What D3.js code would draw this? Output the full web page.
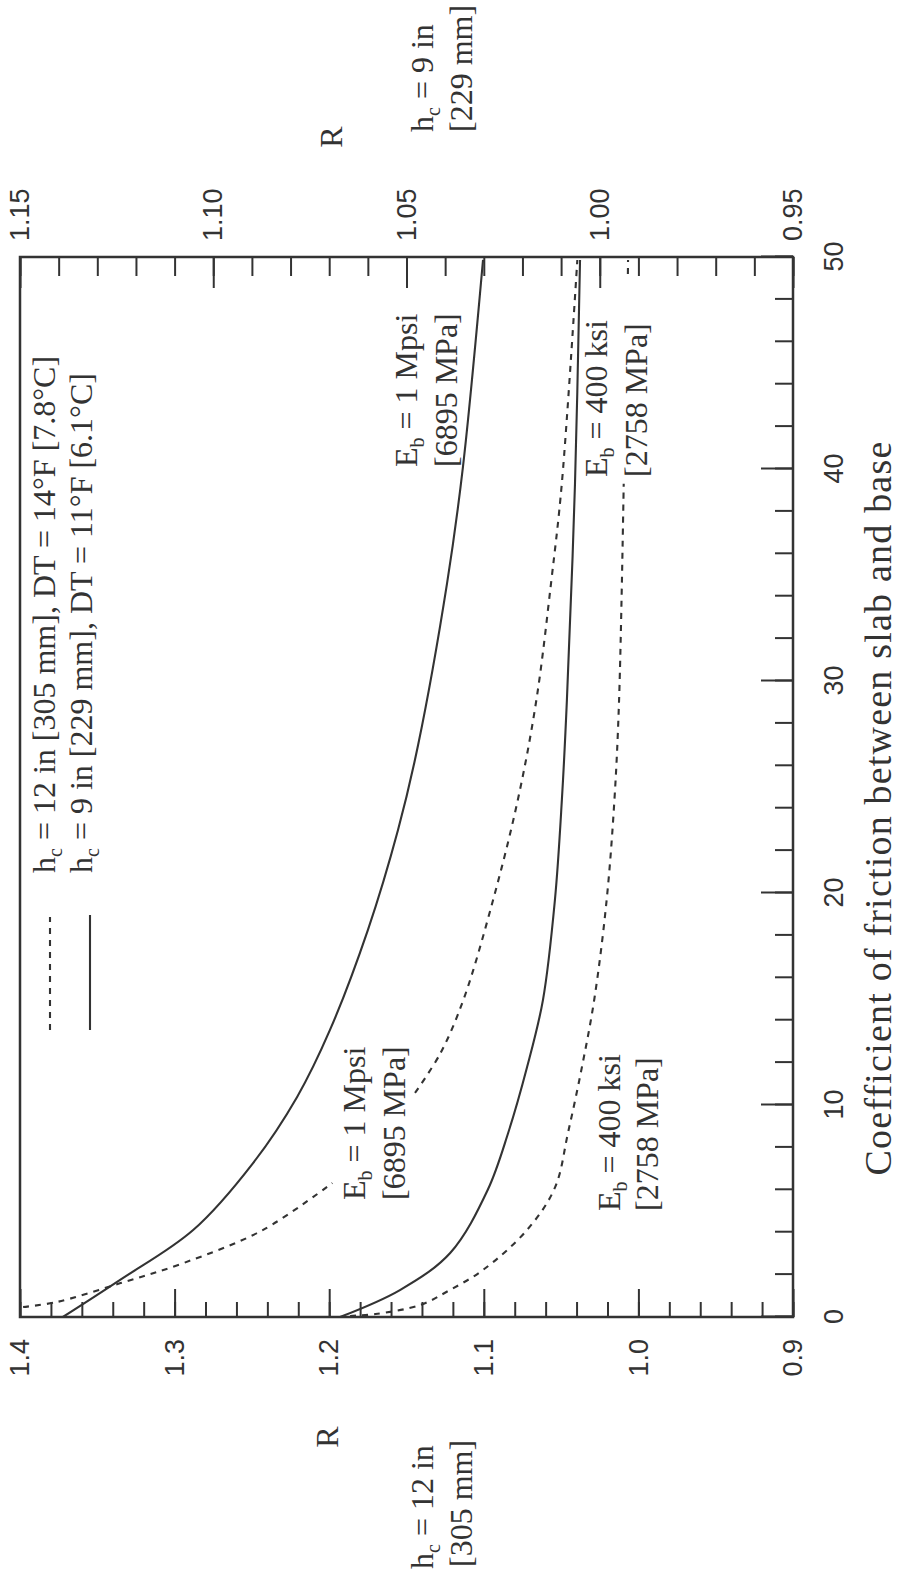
<!DOCTYPE html>
<html><head><meta charset="utf-8">
<script src="https://cdn.jsdelivr.net/npm/d3@7"></script>
<style>
html,body{margin:0;padding:0;background:#fff;}
svg{display:block;}
text{white-space:pre;}
</style></head><body>
<svg id="chart" width="901" height="1573"></svg>
<script>
// ---------------- data ----------------
const frictionTicks = [0, 10, 20, 30, 40, 50];
const R12Ticks = [0.9, 1.0, 1.1, 1.2, 1.3, 1.4];        // h_c = 12 in axis
const R9Ticks  = [0.95, 1.00, 1.05, 1.10, 1.15];        // h_c = 9 in axis

// h_c = 12 in (dashed, read on 0.9–1.4 axis)
const f_12in_1Mpsi = [0.47, 0.71, 1.6, 2.55, 4.1, 6.32, 10.57, 12.45, 15, 19.67, 24.39, 29.1, 34.62, 39.34, 49.86];
const R_12in_1Mpsi = [1.398, 1.376, 1.335, 1.294, 1.243, 1.198, 1.1445, 1.128, 1.113, 1.094, 1.078, 1.066, 1.0565, 1.0495, 1.0395];
const f_12in_400ksi = [0.05, 0.14, 0.57, 1.27, 2.22, 4.1, 6.1, 8.7, 11.8, 15, 19.7, 24.4, 29.1, 39.3, 49.2, 49.86];
const R_12in_400ksi = [1.1865, 1.170, 1.141, 1.122, 1.1005, 1.0721, 1.054, 1.0455, 1.0365, 1.0285, 1.0205, 1.0155, 1.0125, 1.0095, 1.0068, 1.0067];

// h_c = 9 in (solid, read on 0.95–1.15 axis)
const f_9in_1Mpsi = [0, 1.75, 4.1, 7.26, 10.38, 13.54, 18.25, 22.97, 26.98, 34.62, 40.09, 49.86];
const R_9in_1Mpsi = [1.1389, 1.1241, 1.1052, 1.0897, 1.0783, 1.0698, 1.0600, 1.0522, 1.0470, 1.0395, 1.0354, 1.0302];
const f_9in_400ksi = [0, 1.27, 3.02, 5.99, 8.68, 11.79, 14.95, 19.67, 24.39, 29.1, 39.34, 49.86];
const R_9in_400ksi = [1.0672, 1.0517, 1.0387, 1.0290, 1.0237, 1.0188, 1.0147, 1.0116, 1.0098, 1.0085, 1.0064, 1.0051];

// friction ranges where a dashed curve is interrupted by its label
const gap_12in_1Mpsi = [6.4, 10.5];
const gap_12in_400ksi = [39.4, 49.1];

// ---------------- layout ----------------
const W = 1060, H = 773;          // plot size in the (unrotated) chart frame
const ink = "#333";
const sans = "'Liberation Sans', Arial, Helvetica, sans-serif";
const serif = "'Liberation Serif', 'Times New Roman', serif";

const svg = d3.select("#chart");
svg.append("rect").attr("width", 901).attr("height", 1573).attr("fill", "#fff");

// The whole chart is drawn normally, then rotated 90° counter-clockwise.
const g = svg.append("g").attr("transform", "translate(20,1317) rotate(-90)");

const x  = d3.scaleLinear().domain([0, 50]).range([0, W]);
const yL = d3.scaleLinear().domain([0.9, 1.4]).range([H, 0]);
const yR = d3.scaleLinear().domain([0.95, 1.15]).range([H, 0]);

function styleAxis(sel) {
  sel.select(".domain").remove();
  sel.selectAll("line").attr("stroke", ink).attr("stroke-width", 2);
  sel.selectAll("text").attr("fill", ink).attr("font-family", sans).attr("font-size", 27);
}

// left axis (h_c = 12 in)
g.append("g").call(d3.axisLeft(yL).tickValues(d3.range(0.9, 1.4001, 0.02)).tickSize(-15).tickFormat("")).call(styleAxis);
g.append("g").call(d3.axisLeft(yL).tickValues(R12Ticks).tickSize(-28).tickPadding(22).tickFormat(d3.format(".1f"))).call(styleAxis);

// right axis (h_c = 9 in)
g.append("g").attr("transform", `translate(${W},0)`)
  .call(d3.axisRight(yR).tickValues(d3.range(0.95, 1.1501, 0.01)).tickSize(-19).tickFormat("")).call(styleAxis);
g.append("g").attr("transform", `translate(${W},0)`)
  .call(d3.axisRight(yR).tickValues(R9Ticks).tickSize(-31).tickPadding(16).tickFormat(d3.format(".2f"))).call(styleAxis);

// bottom axis (friction)
g.append("g").attr("transform", `translate(0,${H})`)
  .call(d3.axisBottom(x).tickValues(d3.range(0, 50.001, 2)).tickSize(-18).tickFormat("")).call(styleAxis);
g.append("g").attr("transform", `translate(0,${H})`)
  .call(d3.axisBottom(x).tickValues(frictionTicks).tickSize(-32).tickPadding(31).tickFormat(d3.format("d"))).call(styleAxis);

// frame
g.append("rect").attr("width", W).attr("height", H).attr("fill", "none")
  .attr("stroke", ink).attr("stroke-width", 2.5);

// clip
svg.append("defs").append("clipPath").attr("id", "plotclip")
  .append("rect").attr("width", W).attr("height", H);
const curves = g.append("g").attr("clip-path", "url(#plotclip)");

function zipPts(fs, rs) { return fs.map((f, i) => [f, rs[i]]); }
function splitGap(pts, gap) {
  if (!gap) return [pts];
  return [pts.filter(p => p[0] <= gap[0]), pts.filter(p => p[0] >= gap[1])];
}
const smooth = d3.curveCatmullRom.alpha(0.5);
const lineL = d3.line().x(d => x(d[0])).y(d => yL(d[1])).curve(smooth);
const lineR = d3.line().x(d => x(d[0])).y(d => yR(d[1])).curve(smooth);

const series = [
  { pts: zipPts(f_12in_1Mpsi, R_12in_1Mpsi), gen: lineL, dash: "6,6", gap: gap_12in_1Mpsi },
  { pts: zipPts(f_12in_400ksi, R_12in_400ksi), gen: lineL, dash: "6,6", gap: gap_12in_400ksi },
  { pts: zipPts(f_9in_1Mpsi, R_9in_1Mpsi), gen: lineR, dash: null, gap: null },
  { pts: zipPts(f_9in_400ksi, R_9in_400ksi), gen: lineR, dash: null, gap: null }
];
series.forEach(s => {
  splitGap(s.pts, s.gap).forEach(seg => {
    curves.append("path").attr("d", s.gen(seg)).attr("fill", "none")
      .attr("stroke", ink).attr("stroke-width", 2.1)
      .attr("stroke-dasharray", s.dash);
  });
});

// ---------- text helpers ----------
function richText(parent, xp, yp, parts, opts = {}) {
  const t = parent.append("text").attr("x", xp).attr("y", yp)
    .attr("font-family", serif).attr("font-size", opts.size || 32)
    .attr("fill", ink).attr("text-anchor", opts.anchor || "start");
  if (opts.spacing) t.attr("letter-spacing", opts.spacing);
  let shifted = false;
  parts.forEach(p => {
    const sub = Array.isArray(p);
    const s = sub ? p[0] : p;
    const ts = t.append("tspan").text(s);
    if (sub) { ts.attr("font-size", 20).attr("dy", 7); shifted = true; }
    else if (shifted) { ts.attr("dy", -7); shifted = false; }
  });
  return t;
}

// legend
g.append("line").attr("x1", 287).attr("x2", 400).attr("y1", 30).attr("y2", 30)
  .attr("stroke", ink).attr("stroke-width", 2.1).attr("stroke-dasharray", "6,6");
g.append("line").attr("x1", 287).attr("x2", 402).attr("y1", 70).attr("y2", 70)
  .attr("stroke", ink).attr("stroke-width", 2.1);
richText(g, 444, 35, ["h", ["c"], " = 12 in [305 mm], DT = 14°F [7.8°C]"]);
richText(g, 444, 72, ["h", ["c"], " = 9 in [229 mm], DT = 11°F [6.1°C]"]);

// curve labels
richText(g, 850, 397, ["E", ["b"], " = 1 Mpsi"]);
richText(g, 850, 437, ["[6895 MPa]"]);
richText(g, 840, 587, ["E", ["b"], " = 400 ksi"]);
richText(g, 840, 627, ["[2758 MPa]"]);
richText(g, 117, 345, ["E", ["b"], " = 1 Mpsi"]);
richText(g, 117, 385, ["[6895 MPa]"]);
richText(g, 106, 600, ["E", ["b"], " = 400 ksi"]);
richText(g, 106, 638, ["[2758 MPa]"]);

// axis titles
richText(g, -120, 318, ["R"], { anchor: "middle" });
richText(g, -252, 413, ["h", ["c"], " = 12 in"]);
richText(g, -250, 452, ["[305 mm]"]);
richText(g, 1180, 322, ["R"], { anchor: "middle" });
richText(g, 1185, 413, ["h", ["c"], " = 9 in"]);
richText(g, 1185, 452, ["[229 mm]"]);
richText(g, 509, 871, ["Coefficient of friction between slab and base"], { anchor: "middle", size: 38, spacing: 1.2 });
</script>
</body></html>
